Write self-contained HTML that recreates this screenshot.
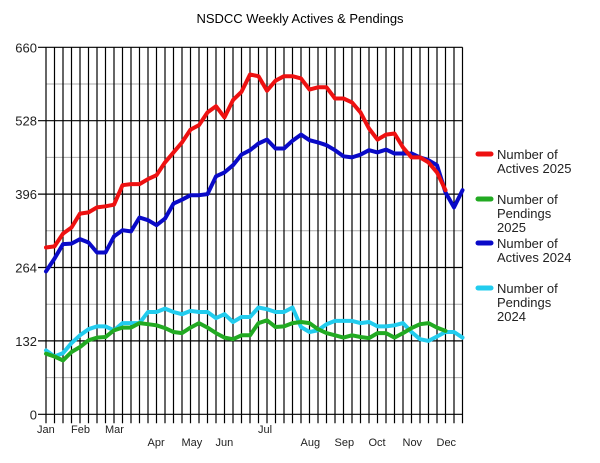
<!DOCTYPE html>
<html><head><meta charset="utf-8"><style>
html,body{margin:0;padding:0;background:#fff;width:600px;height:463px;overflow:hidden}
svg text{font-family:"Liberation Sans",Arial,sans-serif}
</style></head><body>
<svg id="chart" width="600" height="463" viewBox="0 0 600 463" xmlns="http://www.w3.org/2000/svg">
<text x="300" y="23" text-anchor="middle" font-size="13" fill="#000">NSDCC Weekly Actives &amp; Pendings</text>
<g id="grid"></g><g id="series"></g><g id="axes"></g>
<g id="legend"></g>
</svg>
<script>
const yTicks=[0,132,264,396,528,660];
const monthLabels=["Jan","Feb","Mar","Apr","May","Jun","Jul","Aug","Sep","Oct","Nov","Dec"];
const monthWeeks=[0,4,8,13,17,21,26,31,35,39,43,47];
const monthRow=[0,0,0,1,1,1,0,1,1,1,1,1];
const actives2025=[300,302,325,336,361,363,372,374,377,412,414,414,423,430,453,471,489,512,520,543,554,534,565,580,611,608,582,600,608,608,604,584,588,588,568,568,561,543,514,494,503,505,480,462,462,453,435,403];
const pendings2025=[109,104,97,112,121,133,138,139,151,156,156,164,162,160,155,148,146,156,164,156,146,138,135,142,142,164,169,157,158,164,166,164,153,146,142,138,142,139,137,146,146,138,146,155,162,164,156,150];
const actives2024=[257,280,306,307,315,309,291,291,320,331,329,354,349,340,352,379,386,394,394,396,428,435,448,467,475,487,494,478,478,492,503,493,489,484,475,464,462,467,475,471,476,469,469,469,462,457,448,399,372,403];
const pendings2024=[115,104,110,128,142,153,158,158,151,164,164,164,184,184,190,184,180,186,184,184,173,180,166,175,175,192,189,184,184,192,157,148,151,162,168,168,168,164,166,158,158,160,164,148,135,132,140,148,148,138];
const NS="http://www.w3.org/2000/svg";
const X0=46,DX=8.5,NW=50,Y0=414.3,YT=47.3;
const xs=i=>X0+DX*i;
const ys=v=>Y0-(v/660)*(Y0-YT);
function mk(tag,attrs,parent){const e=document.createElementNS(NS,tag);for(const k in attrs)e.setAttribute(k,attrs[k]);parent.appendChild(e);return e;}
const grid=document.getElementById('grid'),axes=document.getElementById('axes'),ser=document.getElementById('series'),leg=document.getElementById('legend');
// minor horizontal grid
for(let k=0;k<5;k++){const v=66+132*k;
 const l=mk('line',{x1:X0,x2:xs(NW-1),y1:ys(v),y2:ys(v),stroke:'#aaa','stroke-width':1},grid);
 
 }
// vertical lines
for(let i=0;i<NW;i++){
 const l=mk('line',{x1:xs(i),x2:xs(i),y1:YT,y2:Y0+9,stroke:'#000','stroke-width':1.2},grid);
 
 }
// major horizontal
yTicks.forEach(v=>{
 const l=mk('line',{x1:X0-8,x2:xs(NW-1),y1:ys(v),y2:ys(v),stroke:'#000','stroke-width':1.2},grid);
 
 
 const t=mk('text',{x:37,y:ys(v)+5,'text-anchor':'end','font-size':13,fill:'#222'},axes);
 t.textContent=v;
 
 });
monthLabels.forEach((m,k)=>{
 const t=mk('text',{x:xs(monthWeeks[k])-9,y:monthRow[k]?446:433,'font-size':11,fill:'#222'},axes);
 t.textContent=m;
 
 });
const series=[
 {name:'actives-2025-line',data:actives2025,c:'#ee1111'},
 {name:'pendings-2025-line',data:pendings2025,c:'#22aa22'},
 {name:'actives-2024-line',data:actives2024,c:'#0a0ac8'},
 {name:'pendings-2024-line',data:pendings2024,c:'#22ccee'}];
[3,1,2,0].forEach(j=>{const s=series[j];
 const p=mk('polyline',{points:s.data.map((v,i)=>xs(i)+','+ys(v).toFixed(1)).join(' '),fill:'none',stroke:s.c,'stroke-width':4,'stroke-linejoin':'round','stroke-linecap':'round'},ser);
 
 });
const legItems=[
 {c:'#ee1111',lines:['Number of','Actives 2025'],y:154},
 {c:'#22aa22',lines:['Number of','Pendings','2025'],y:199},
 {c:'#0a0ac8',lines:['Number of','Actives 2024'],y:243},
 {c:'#22ccee',lines:['Number of','Pendings','2024'],y:288}];
legItems.forEach(it=>{
 const g=mk('g',{},leg);
 
 
 mk('line',{x1:478,x2:491,y1:it.y,y2:it.y,stroke:it.c,'stroke-width':5,'stroke-linecap':'round'},g);
 it.lines.forEach((s,k)=>{const t=mk('text',{x:497,y:it.y+5+k*14,'font-size':13,fill:'#222'},g);t.textContent=s;});});
</script>
</body></html>
